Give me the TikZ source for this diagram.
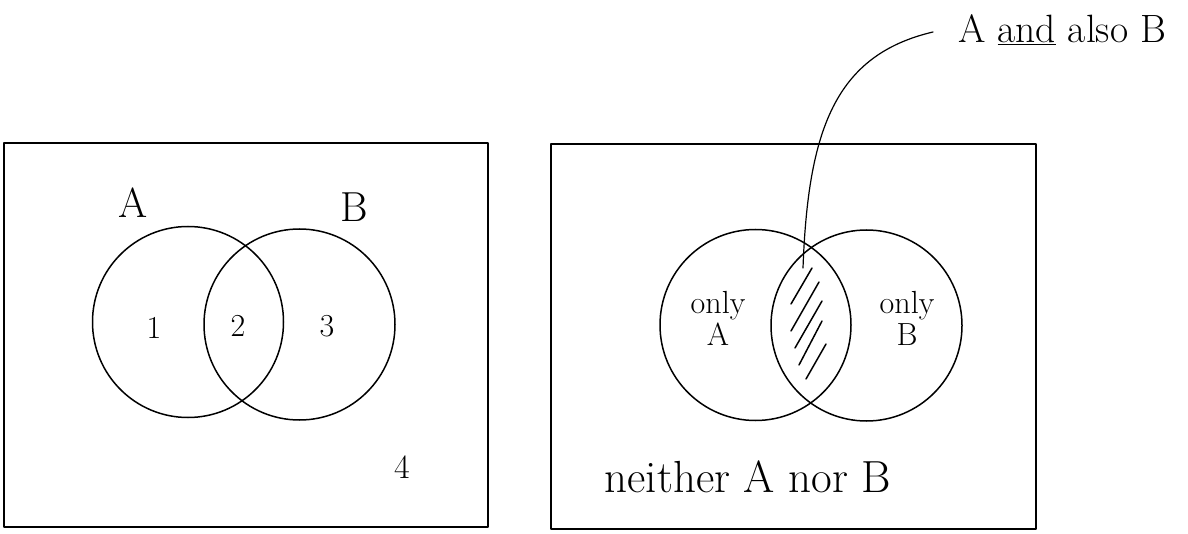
\documentclass[tikz,border=0pt]{standalone}
\begin{document}
\begin{tikzpicture}[x=1pt,y=-1pt,
  ink/.style={line width=1.5pt,line cap=round,line join=round},
  frame/.style={ink,draw},
  ring/.style={ink,draw,circle,inner sep=0pt,minimum size=191pt},
  lbl/.style={inner sep=0pt,font=\fontsize{42}{46}\selectfont},
  num/.style={inner sep=0pt,font=\fontsize{32}{36}\selectfont},
  small/.style={inner sep=0pt,font=\fontsize{32}{30}\selectfont,align=center}
]
\useasboundingbox (0,0) rectangle (1188,534);
% left panel
\draw[frame] (4,143) rectangle (488,527);
\node[ring] (LA) at (188,322) {};
\node[ring] (LB) at (299.5,324.5) {};
\node[lbl] (tA) at (133,203) {A};
\node[lbl] (tB) at (354,207) {B};
\node[num] (n1) at (154,328) {1};
\node[num] (n2) at (238,326) {2};
\node[num] (n3) at (327,326) {3};
\node[num,font=\fontsize{34}{36}\selectfont] (n4) at (402,467) {4};
% right panel
\draw[frame] (551,144) rectangle (1036,529);
\node[ring] (RA) at (755.5,325) {};
\node[ring] (RB) at (866.5,325.5) {};
\node[small] (oA) at (718,318) {only\\[2pt]A};
\node[small] (oB) at (907,318) {only\\[2pt]B};
\node[lbl,font=\fontsize{45}{48}\selectfont] (nei) at (748,477) {neither A nor B};
\node[lbl,font=\fontsize{39.5}{42}\selectfont,anchor=west] (tAB) at (958,30) {A \underline{and} also B};
% hatching
\draw[ink] (812,268) -- (791,304);
\draw[ink] (819,282) -- (791,331);
\draw[ink] (822,301) -- (795,348);
\draw[ink] (822,321) -- (799,365);
\draw[ink] (826,344) -- (806,379);
% pointer
\coordinate (hs) at (803,268);
\coordinate (ht) at (933,32);
\draw[ink,line width=1.2pt] (hs) .. controls (808,130) and (835,55) .. (ht);
\end{tikzpicture}
\end{document}
